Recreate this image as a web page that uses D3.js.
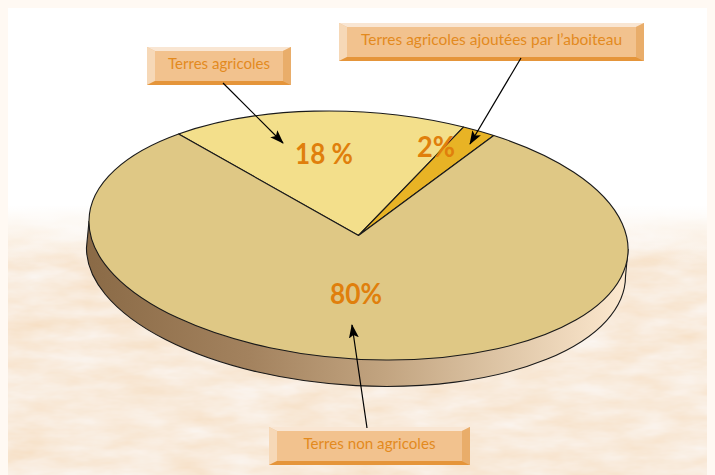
<!DOCTYPE html>
<meta charset="utf-8" />

<head>
  <style>
    html,
    body {
      margin: 0;
      padding: 0;
      background: #fff;
      overflow: hidden;
    }

    svg {
      display: block;
    }

    svg text {
      font-family: Lato, sans-serif;
    }

    .callout text {
      font-size: 16px;
      fill: #e38a1e;
      text-anchor: middle;
    }

    .percent {
      font-size: 29px;
      font-weight: 700;
      fill: #e07f0c;
      text-anchor: middle;
    }
  </style>
</head>

<script src="https://d3js.org/d3.v7.min.js"></script>

<body>
  <div id="chart"></div>
  <script>
    // chart data
    const categories = ["Terres agricoles", "Terres agricoles ajoutées par l’aboiteau", "Terres non agricoles"];
    const shares = [18, 2, 80];
    const shareLabels = ["18 %", "2%", "80%"];
    const sliceColors = ["#f3df8b", "#e8b325", "#dfc885"];

    const svgWidth = 715;
    const svgHeight = 475;

    // pie ellipse, slightly tilted
    const cx = 358.5;
    const cy = 235.5;
    const rx = 270;
    const ry = 123.5;
    const tilt = 3.76;
    const shiftX = -2.5; // bottom rim offset
    const shiftY = 26.5;

    const startAngle = (-43.6 * Math.PI) / 180;

    // callouts, same order as categories
    const boxes = [
      { x: 147, y: 47, w: 144, h: 38, textW: 102 },
      { x: 339, y: 23, w: 305, h: 38, textW: 261 },
      { x: 269, y: 427, w: 201, h: 38, textW: 132 },
    ];
    const arrows = [
      { x1: 223, y1: 83, x2: 283, y2: 143 },
      { x1: 521, y1: 58, x2: 470, y2: 144 },
      { x1: 367, y1: 428, x2: 352, y2: 325 },
    ];
    const labelPos = [
      { x: 324, y: 164, w: 58 },
      { x: 436, y: 157, w: 38 },
      { x: 356, y: 304, w: 52 },
    ];

    const svg = d3
      .select("#chart")
      .append("svg")
      .attr("width", svgWidth)
      .attr("height", svgHeight);

    const defs = svg.append("defs");

    ////////////////////////////////////
    //////////// Background ////////////
    ////////////////////////////////////

    const paper = defs
      .append("filter")
      .attr("id", "paper")
      .attr("x", 0)
      .attr("y", 0)
      .attr("width", 1)
      .attr("height", 1)
      .attr("color-interpolation-filters", "sRGB");
    paper
      .append("feTurbulence")
      .attr("type", "fractalNoise")
      .attr("baseFrequency", "0.018 0.06")
      .attr("numOctaves", 4)
      .attr("seed", 8);
    paper
      .append("feColorMatrix")
      .attr("values", "0.02 0 0 0 0.965  0.1 0 0 0 0.87  0.2 0 0 0 0.76  0 0 0 0 1");

    const fade = defs
      .append("linearGradient")
      .attr("id", "fade")
      .attr("x1", 0)
      .attr("x2", 0)
      .attr("y1", 0)
      .attr("y2", 1);
    fade.append("stop").attr("offset", 0).attr("stop-color", "#fff").attr("stop-opacity", 1);
    fade.append("stop").attr("offset", 1).attr("stop-color", "#fff").attr("stop-opacity", 0);

    // cream page margin
    svg.append("rect").attr("width", svgWidth).attr("height", svgHeight).attr("fill", "#fff9f3");
    svg.append("rect").attr("x", 8).attr("y", 8).attr("width", 699).attr("height", 467).attr("fill", "#fff");

    svg
      .append("rect")
      .attr("x", 8)
      .attr("y", 205)
      .attr("width", 699)
      .attr("height", 270)
      .attr("filter", "url(#paper)");
    svg.append("rect").attr("x", 8).attr("y", 205).attr("width", 699).attr("height", 60).attr("fill", "url(#fade)");

    ////////////////////////////////////
    ///////////// Pie wall /////////////
    ////////////////////////////////////

    const wallColor = d3
      .scaleLinear()
      .domain([0, 0.3, 0.55, 0.75, 1])
      .range(["#8a6a46", "#a3825e", "#c2a480", "#dcc3a3", "#fde9d0"]);

    const wallGrad = defs
      .append("linearGradient")
      .attr("id", "wall")
      .attr("x1", 0)
      .attr("x2", 1)
      .attr("y1", 0)
      .attr("y2", 0);
    wallGrad
      .selectAll("stop")
      .data(wallColor.domain())
      .join("stop")
      .attr("offset", (d) => d)
      .attr("stop-color", (d) => wallColor(d));

    // left and right extreme points of the tilted ellipse
    const t = (tilt * Math.PI) / 180;
    const xExt = Math.sqrt(rx * rx * Math.cos(t) ** 2 + ry * ry * Math.sin(t) ** 2);
    const yAtExt = ((rx * rx - ry * ry) * Math.sin(t) * Math.cos(t)) / xExt;

    svg
      .append("path")
      .attr(
        "d",
        `M${cx - xExt},${cy - yAtExt}
         L${cx - xExt + shiftX},${cy - yAtExt + shiftY}
         A${rx},${ry} ${tilt} 0 0 ${cx + xExt + shiftX},${cy + yAtExt + shiftY}
         L${cx + xExt},${cy + yAtExt} Z`
      )
      .attr("fill", "url(#wall)")
      .attr("stroke", "#1a1a1a")
      .attr("stroke-width", 1.1);

    ////////////////////////////////////
    ///////////// Pie top //////////////
    ////////////////////////////////////

    const pie = d3
      .pie()
      .sort(null)
      .startAngle(startAngle)
      .endAngle(startAngle + 2 * Math.PI);

    const arc = d3.arc().innerRadius(0).outerRadius(rx);

    svg
      .append("g")
      .attr("transform", `translate(${cx},${cy}) rotate(${tilt}) scale(1,${ry / rx})`)
      .selectAll("path")
      .data(pie(shares))
      .join("path")
      .attr("d", arc)
      .attr("fill", (d, i) => sliceColors[i])
      .attr("stroke", "#1a1a1a")
      .attr("stroke-width", 1.1)
      .attr("stroke-linejoin", "round")
      .attr("vector-effect", "non-scaling-stroke");

    ////////////////////////////////////
    //////////// Peripherals ///////////
    ////////////////////////////////////

    svg
      .selectAll(".percent")
      .data(shareLabels)
      .join("text")
      .attr("class", "percent")
      .attr("x", (d, i) => labelPos[i].x)
      .attr("y", (d, i) => labelPos[i].y)
      .attr("textLength", (d, i) => labelPos[i].w)
      .attr("lengthAdjust", "spacingAndGlyphs")
      .text((d) => d);

    // bevelled callout boxes
    const bevelX = 8;
    const bevelY = 4;

    const callouts = svg
      .selectAll(".callout")
      .data(categories)
      .join("g")
      .attr("class", "callout")
      .attr("transform", (d, i) => `translate(${boxes[i].x},${boxes[i].y})`);

    callouts
      .append("rect")
      .attr("width", (d, i) => boxes[i].w)
      .attr("height", (d, i) => boxes[i].h)
      .attr("fill", "#f2c28e");

    function bevel(side, color) {
      callouts
        .append("polygon")
        .attr("fill", color)
        .attr("points", (d, i) => {
          const w = boxes[i].w;
          const h = boxes[i].h;
          if (side === "top") return `0,0 ${w},0 ${w - bevelX},${bevelY} ${bevelX},${bevelY}`;
          if (side === "left") return `0,0 ${bevelX},${bevelY} ${bevelX},${h - bevelY} 0,${h}`;
          if (side === "right") return `${w},0 ${w},${h} ${w - bevelX},${h - bevelY} ${w - bevelX},${bevelY}`;
          return `0,${h} ${bevelX},${h - bevelY} ${w - bevelX},${h - bevelY} ${w},${h}`;
        });
    }
    bevel("top", "#f9e6d3");
    bevel("left", "#f6d8b7");
    bevel("right", "#e9ad6a");
    bevel("bottom", "#e5953a");

    callouts
      .append("text")
      .attr("x", (d, i) => boxes[i].w / 2)
      .attr("y", 22)
      .attr("textLength", (d, i) => boxes[i].textW)
      .attr("lengthAdjust", "spacingAndGlyphs")
      .text((d) => d);

    // arrows
    defs
      .append("marker")
      .attr("id", "head")
      .attr("markerUnits", "userSpaceOnUse")
      .attr("viewBox", "0 0 14 10")
      .attr("markerWidth", 14)
      .attr("markerHeight", 10)
      .attr("refX", 13)
      .attr("refY", 5)
      .attr("orient", "auto")
      .append("path")
      .attr("d", "M0,0 L14,5 L0,10 L3,5 Z")
      .attr("fill", "#000");

    svg
      .selectAll(".arrow")
      .data(arrows)
      .join("line")
      .attr("class", "arrow")
      .attr("x1", (d) => d.x1)
      .attr("y1", (d) => d.y1)
      .attr("x2", (d) => d.x2)
      .attr("y2", (d) => d.y2)
      .attr("stroke", "#000")
      .attr("stroke-width", 1.2)
      .attr("marker-end", "url(#head)");
  </script>
</body>
